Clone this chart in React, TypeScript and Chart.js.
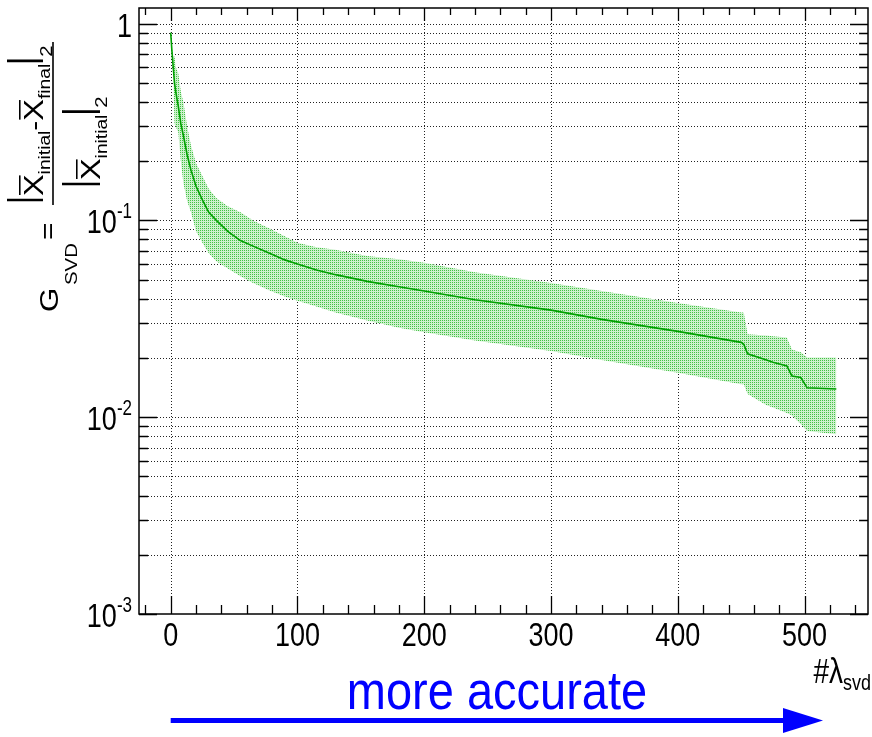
import React, { useEffect, useRef } from "react";
import { Chart, registerables } from "chart.js";

Chart.register(...registerables);

// ---- data ----
const LAMBDA = [0, 1, 2, 3, 4, 6, 8, 10, 13, 16, 20, 25, 30, 36, 45, 55, 65, 78, 90, 100, 115, 130, 155, 180, 200, 240, 300, 340, 400, 450, 452, 455, 470, 475, 486, 490, 497, 502, 525];
const CENTRAL = [0.9, 0.72, 0.6, 0.5, 0.45, 0.38, 0.31, 0.27, 0.215, 0.18, 0.149, 0.127, 0.11, 0.1, 0.088, 0.079, 0.074, 0.068, 0.063, 0.06, 0.056, 0.053, 0.049, 0.046, 0.0438, 0.0395, 0.035, 0.0314, 0.0273, 0.024, 0.0235, 0.021, 0.0195, 0.019, 0.0182, 0.0162, 0.0159, 0.0141, 0.0139];
const UPPER = [0.9, 0.75, 0.68, 0.68, 0.6, 0.56, 0.45, 0.4, 0.3, 0.24, 0.195, 0.168, 0.145, 0.13, 0.118, 0.11, 0.1, 0.091, 0.083, 0.077, 0.073, 0.071, 0.066, 0.0634, 0.061, 0.0545, 0.048, 0.0438, 0.038, 0.034, 0.034, 0.0264, 0.026, 0.0258, 0.0254, 0.0221, 0.0214, 0.0201, 0.0201];
const LOWER = [0.9, 0.7, 0.55, 0.31, 0.3, 0.28, 0.2, 0.155, 0.125, 0.11, 0.088, 0.077, 0.068, 0.062, 0.057, 0.052, 0.048, 0.044, 0.041, 0.039, 0.0365, 0.034, 0.031, 0.0285, 0.027, 0.0245, 0.0217, 0.0195, 0.0168, 0.0147, 0.0147, 0.0131, 0.0115, 0.0112, 0.0105, 0.0102, 0.0092, 0.0085, 0.0082];

const X_MIN = -25;
const X_MAX = 550;
const Y_MIN = 0.001;
const Y_MAX = 1.2;
const X_TICKS = [0, 100, 200, 300, 400, 500];
const X_TICK_LABELS = ["0", "100", "200", "300", "400", "500"];
const Y_TICKS = [1, 0.1, 0.01, 0.001];
const Y_TICK_BASE = ["1", "10", "10", "10"];
const Y_TICK_EXP = ["", "-1", "-2", "-3"];

const FONT = '"Liberation Sans", Arial, Helvetica, sans-serif';
const SY = 1.25; // vertical stretch of text in the reference

function stretchedText(ctx: CanvasRenderingContext2D, text: string, x: number, y: number, size: number, align: CanvasTextAlign, color = "#000", sy = SY) {
  ctx.save();
  ctx.translate(x, y);
  ctx.scale(1, sy);
  ctx.font = `${size}px ${FONT}`;
  ctx.textAlign = align;
  ctx.textBaseline = "alphabetic";
  ctx.fillStyle = color;
  ctx.fillText(text, 0, 0);
  ctx.restore();
}

type Item = { t?: string; size?: number; v: number; pipe?: [number, number]; bar?: boolean };

function drawYTitle(ctx: CanvasRenderingContext2D) {
  const SX = 1.2;
  const OY = 320;
  ctx.save();
  ctx.translate(0, OY);
  ctx.rotate(-Math.PI / 2);
  ctx.scale(SX, 1);
  ctx.fillStyle = "#000";
  ctx.strokeStyle = "#000";
  ctx.textBaseline = "alphabetic";
  ctx.textAlign = "left";
  const put = (t: string, u: number, v: number, size: number) => {
    ctx.font = `${size}px ${FONT}`;
    ctx.fillText(t, u / SX, v);
    return ctx.measureText(t).width * SX;
  };
  put("G", 8, 58, 26);
  put("SVD", 35, 77, 17);
  put("=", 80, 56, 25);

  const runs = (items: Item[], start: number) => {
    let u = start;
    for (const it of items) {
      if (it.pipe) {
        ctx.lineWidth = 2.2;
        ctx.beginPath();
        ctx.moveTo((u + 3) / SX, it.pipe[0]);
        ctx.lineTo((u + 3) / SX, it.pipe[1]);
        ctx.stroke();
        u += 7;
      } else if (it.t) {
        const size = it.size || 27;
        const w = put(it.t, u, it.v, size);
        if (it.bar) {
          ctx.lineWidth = 1.6;
          ctx.beginPath();
          const bv = it.v - size * 0.86;
          ctx.moveTo((u + 1) / SX, bv);
          ctx.lineTo((u + w - 1) / SX, bv);
          ctx.stroke();
        }
        u += w;
      }
    }
  };
  // numerator
  runs(
    [
      { v: 0, pipe: [7, 43] },
      { t: "X", size: 27, v: 43, bar: true },
      { t: "initial", size: 16, v: 50 },
      { t: "-", size: 25, v: 43 },
      { t: "X", size: 27, v: 43, bar: true },
      { t: "final", size: 16, v: 50 },
      { v: 0, pipe: [7, 43] },
      { t: "2", size: 17, v: 52 },
    ],
    117
  );
  // fraction bar
  ctx.lineWidth = 1.6;
  ctx.beginPath();
  ctx.moveTo(115 / SX, 53);
  ctx.lineTo(278 / SX, 53);
  ctx.stroke();
  // denominator
  runs(
    [
      { v: 0, pipe: [62, 100] },
      { t: "X", size: 27, v: 100, bar: true },
      { t: "initial", size: 16, v: 107 },
      { v: 0, pipe: [62, 100] },
      { t: "2", size: 17, v: 107 },
    ],
    133
  );
  ctx.restore();
}

const rootStyle = {
  id: "rootStyle",
  beforeDatasetsDraw(chart: any) {
    const { ctx, chartArea: a, scales } = chart;
    const x = scales.x;
    const y = scales.y;
    ctx.save();
    ctx.strokeStyle = "#222";
    ctx.lineWidth = 1;
    ctx.setLineDash([1, 2]);
    for (let e = -3; e <= 0; e++) {
      for (let m = 1; m <= 9; m++) {
        const v = m * Math.pow(10, e);
        if (v <= Y_MIN * 1.0001 || v > Y_MAX) continue;
        const py = Math.round(y.getPixelForValue(v)) + 0.5;
        ctx.beginPath();
        ctx.moveTo(a.left, py);
        ctx.lineTo(a.right, py);
        ctx.stroke();
      }
    }
    for (const t of X_TICKS) {
      const px = Math.round(x.getPixelForValue(t)) + 0.5;
      ctx.beginPath();
      ctx.moveTo(px, a.top);
      ctx.lineTo(px, a.bottom);
      ctx.stroke();
    }
    ctx.restore();
  },
  afterDraw(chart: any) {
    const { ctx, chartArea: a, scales } = chart;
    const x = scales.x;
    const y = scales.y;
    ctx.save();
    ctx.setLineDash([]);
    ctx.strokeStyle = "#000";
    ctx.lineWidth = 1.5;
    ctx.strokeRect(a.left, a.top, a.right - a.left, a.bottom - a.top);
    // x ticks
    ctx.lineWidth = 1.3;
    for (let t = -20; t <= X_MAX; t += 20) {
      const px = Math.round(x.getPixelForValue(t)) + 0.5;
      const len = t % 100 === 0 ? 18 : 9;
      ctx.beginPath();
      ctx.moveTo(px, a.bottom);
      ctx.lineTo(px, a.bottom - len);
      ctx.moveTo(px, a.top);
      ctx.lineTo(px, a.top + (t % 100 === 0 ? 13 : 7));
      ctx.stroke();
    }
    // y ticks
    for (let e = -3; e <= 0; e++) {
      for (let m = 1; m <= 9; m++) {
        const v = m * Math.pow(10, e);
        if (v < Y_MIN * 0.999 || v > Y_MAX) continue;
        const py = Math.round(y.getPixelForValue(v)) + 0.5;
        const len = m === 1 ? 18 : 9;
        ctx.beginPath();
        ctx.moveTo(a.left, py);
        ctx.lineTo(a.left + len, py);
        ctx.moveTo(a.right, py);
        ctx.lineTo(a.right - len, py);
        ctx.stroke();
      }
    }
    // x tick labels
    X_TICKS.forEach((t, i) => {
      const px = x.getPixelForValue(t);
      stretchedText(ctx, X_TICK_LABELS[i], px, 646, 27, "center");
    });
    // y tick labels
    Y_TICKS.forEach((v, i) => {
      const py = y.getPixelForValue(v);
      const exp = Y_TICK_EXP[i];
      ctx.font = `17px ${FONT}`;
      const ew = exp ? ctx.measureText(exp).width : 0;
      const right = 132;
      stretchedText(ctx, Y_TICK_BASE[i], right - ew, py + 13, 27, "right");
      if (exp) stretchedText(ctx, exp, right, py - 2, 17, "right");
    });
    // x title
    stretchedText(ctx, "#\u03bb", 843, 683, 28, "right");
    stretchedText(ctx, "svd", 843, 690, 18, "left");
    // y title
    drawYTitle(ctx);
    // annotation
    stretchedText(ctx, "more accurate", 497, 709, 47, "center", "#0000ff", 1.15);
    ctx.fillStyle = "#0000ff";
    ctx.fillRect(x.getPixelForValue(0), 718, 786 - x.getPixelForValue(0), 5);
    ctx.beginPath();
    ctx.moveTo(783, 708);
    ctx.lineTo(823, 720.5);
    ctx.lineTo(783, 733);
    ctx.closePath();
    ctx.fill();
    ctx.restore();
  },
};

function makePattern(): CanvasPattern | string {
  const c = document.createElement("canvas");
  c.width = 2;
  c.height = 2;
  const g = c.getContext("2d");
  if (!g) return "rgba(0,200,0,0.3)";
  g.fillStyle = "#cdf1cd";
  g.fillRect(0, 0, 2, 2);
  g.fillStyle = "#44c244";
  g.fillRect(0, 0, 1, 1);
  const p = g.createPattern(c, "repeat");
  return p || "rgba(0,200,0,0.3)";
}

export default function App() {
  const ref = useRef<HTMLCanvasElement | null>(null);
  useEffect(() => {
    if (!ref.current) return;
    document.body.style.margin = "0";
    const pattern = makePattern();
    const pts = (vals: number[]) => LAMBDA.map((l, i) => ({ x: l, y: vals[i] }));
    const chart = new Chart(ref.current, {
      type: "line",
      data: {
        datasets: [
          { data: pts(LOWER), order: 3, borderWidth: 0, pointRadius: 0, fill: false, borderColor: "rgba(0,0,0,0)" },
          { data: pts(UPPER), order: 2, borderWidth: 0, pointRadius: 0, fill: "-1", backgroundColor: pattern as any, borderColor: "rgba(0,0,0,0)" },
          { data: pts(CENTRAL), order: 0, borderWidth: 1.6, pointRadius: 0, fill: false, borderColor: "#00a000" },
        ],
      },
      options: {
        responsive: false,
        animation: false,
        devicePixelRatio: 1,
        layout: { padding: { left: 139, right: 4, top: 8, bottom: 123 } },
        plugins: { legend: { display: false }, tooltip: { enabled: false } },
        scales: {
          x: { type: "linear", min: X_MIN, max: X_MAX, display: false },
          y: { type: "logarithmic", min: Y_MIN, max: Y_MAX, display: false },
        },
      },
      plugins: [rootStyle],
    });
    return () => chart.destroy();
  }, []);
  return (
    <div style={{ position: "absolute", left: 0, top: 0, width: 872, height: 737, background: "#fff" }}>
      <canvas ref={ref} width={872} height={737} />
    </div>
  );
}
